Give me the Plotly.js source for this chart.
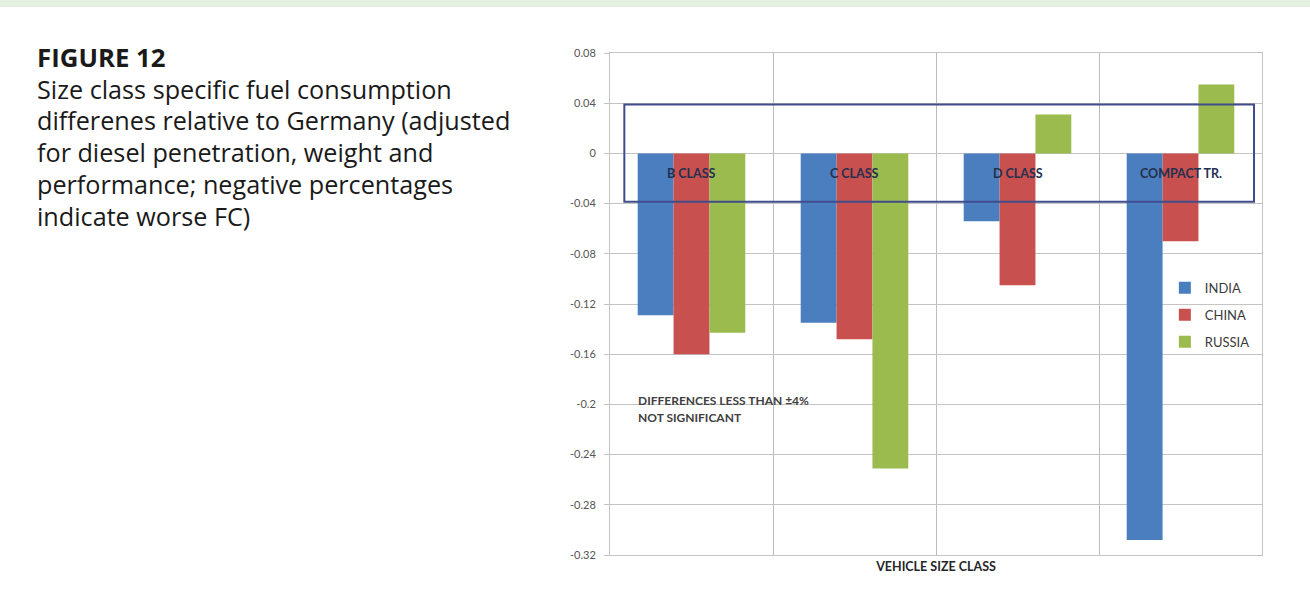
<!DOCTYPE html>
<html>
<head>
<meta charset="utf-8">
<script src="https://cdn.plot.ly/plotly-3.0.1.min.js"></script>
<style>
  html, body { margin: 0; padding: 0; background: #ffffff; }
  #wrap { position: relative; width: 1310px; height: 602px; overflow: hidden; }
  #band { position: absolute; left: 0; top: 0; width: 1310px; height: 7px; background: #e4efdf; z-index: 5; }
  #caption { position: absolute; left: 37px; top: 42px; z-index: 5; font-family: "Open Sans", sans-serif; font-size: 25.2px; line-height: 31.7px; color: #1a1a1a; }
  #caption b { font-weight: 700; font-size: 25.8px; }
  #chart { position: absolute; left: 0; top: 0; width: 1310px; height: 602px; }
</style>
</head>
<body>
<div id="wrap">
  <div id="chart"></div>
  <div id="band"></div>
  <div id="caption"><b>FIGURE 12</b><br>Size class specific fuel consumption<br>differenes relative to Germany (adjusted<br>for diesel penetration, weight and<br>performance; negative percentages<br>indicate worse FC)</div>
</div>
<script>
const categories = ["B CLASS", "C CLASS", "D CLASS", "COMPACT TR."];
const india  = [-0.129, -0.135, -0.054, -0.308];
const china  = [-0.160, -0.148, -0.105, -0.070];
const russia = [-0.143, -0.251, 0.031, 0.055];
const seriesNames = ["INDIA", "CHINA", "RUSSIA"];
const yTickVals = [0.08, 0.04, 0, -0.04, -0.08, -0.12, -0.16, -0.2, -0.24, -0.28, -0.32];
const yTickText = ["0.08", "0.04", "0", "-0.04", "-0.08", "-0.12", "-0.16", "-0.2", "-0.24", "-0.28", "-0.32"];
const noteLines = ["DIFFERENCES LESS THAN \u00B14%", "NOT SIGNIFICANT"];
const xTitle = "VEHICLE SIZE CLASS";

const colors = ["#4a7ebf", "#c8504e", "#9bbb4f"];
const values = [india, china, russia];

const traces = values.map((v, i) => ({
  type: "bar",
  name: seriesNames[i],
  x: categories,
  y: v,
  legendgroup: "g" + i,
  marker: { color: colors[i], line: { width: 0 } },
  hoverinfo: "x+y+name"
}));

const annotations = categories.map(c => ({
  x: c, y: 0, xref: "x", yref: "y",
  text: "<b>" + c + "</b>", showarrow: false,
  yanchor: "middle", xanchor: "center", yshift: -20,
  font: { family: "Lato, sans-serif", size: 12.5, color: "#24304f" }
}));
noteLines.forEach((t, i) => {
  annotations.push({
    x: -0.34, y: -0.197 - i * 0.0138, xref: "x", yref: "y",
    text: "<b>" + t + "</b>", showarrow: false, xanchor: "left", yanchor: "middle",
    font: { family: "Lato, sans-serif", size: 12, color: "#404040" }
  });
});

const layout = {
  width: 1310, height: 602,
  margin: { l: 610, r: 48, t: 53, b: 47 },
  paper_bgcolor: "#ffffff",
  plot_bgcolor: "#ffffff",
  barmode: "group",
  bargap: 0.34,
  bargroupgap: 0,
  showlegend: true,
  legend: {
    x: 0.851, y: 0.562, xanchor: "left", yanchor: "top",
    traceorder: "grouped", tracegroupgap: 7,
    bgcolor: "rgba(255,255,255,0)",
    font: { family: "Lato, sans-serif", size: 13, color: "#3a3a3a" }
  },
  xaxis: {
    type: "category",
    showticklabels: false,
    tickson: "boundaries",
    ticks: "",
    showgrid: true, gridcolor: "#bcbcbc", gridwidth: 1,
    showline: true, linecolor: "#c4c4c4", linewidth: 1, mirror: true,
    zeroline: false,
    title: { text: "<b>" + xTitle + "</b>", standoff: 7, font: { family: "Lato, sans-serif", size: 12.5, color: "#262626" } },
    automargin: false
  },
  yaxis: {
    range: [-0.32, 0.08],
    tickvals: yTickVals, ticktext: yTickText,
    ticks: "outside", ticklen: 5, tickcolor: "#c4c4c4",
    ticklabelstandoff: 6,
    tickfont: { family: "Lato, sans-serif", size: 11, color: "#555555" },
    showgrid: true, gridcolor: "#c4c4c4", gridwidth: 1,
    showline: true, linecolor: "#c4c4c4", linewidth: 1, mirror: true,
    zeroline: false,
    automargin: false
  },
  shapes: [{
    type: "rect", xref: "x", yref: "y",
    x0: -0.412, x1: 3.451, y0: -0.0385, y1: 0.039,
    line: { color: "#404c8c", width: 2 },
    fillcolor: "rgba(0,0,0,0)", layer: "above"
  }],
  annotations: annotations
};

Plotly.newPlot("chart", traces, layout, { displayModeBar: false, staticPlot: true });
</script>
</body>
</html>
